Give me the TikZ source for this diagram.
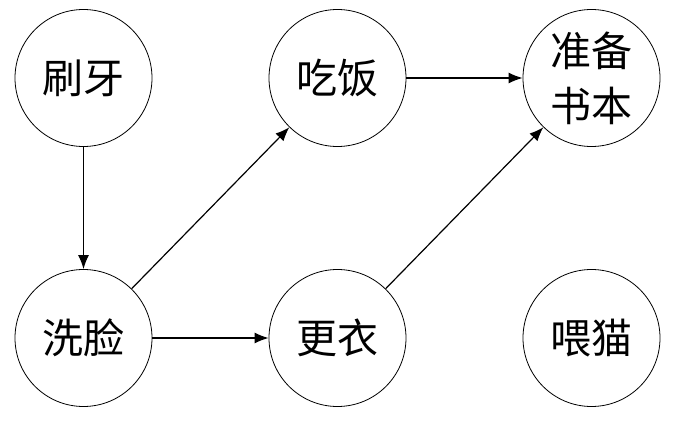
\documentclass[tikz,border=0pt]{standalone}
\usepackage{fontspec}
\setmainfont{Noto Sans CJK SC}
\usepackage{tikz}
\usetikzlibrary{arrows.meta}
\def\myrad{68.5pt}
\def\colA{83.5}
\def\colB{337.5}
\def\colC{591.5}
\def\rowA{78}
\def\rowB{338}

\begin{document}
\begin{tikzpicture}[x=1pt,y=-1pt,
  task/.style={draw,circle,line width=0.8pt,minimum size=2*\myrad,inner sep=0pt,
    font=\fontsize{41}{55}\selectfont,align=center},
  link/.style={line width=1.2pt,-{Latex[length=14pt,width=11pt]}}]
% fixed frame
\useasboundingbox (0,0) rectangle (680,422);
% the tasks
\node[task] (brush) at (\colA,\rowA) {刷牙};
\node[task] (eat) at (\colB,\rowA) {吃饭};
\node[task] (books) at (\colC,\rowA) {准备\\书本};
\node[task] (wash) at (\colA,\rowB) {洗脸};
\node[task] (dress) at (\colB,\rowB) {更衣};
\node[task] (cat) at (\colC,\rowB) {喂猫};
% the order
\draw[link] (brush) -- (wash);
\draw[link] (wash) -- (eat);
\draw[link] (wash) -- (dress);
\draw[link] (eat) -- (books);
\draw[link] (dress) -- (books);
\end{tikzpicture}
\end{document}
